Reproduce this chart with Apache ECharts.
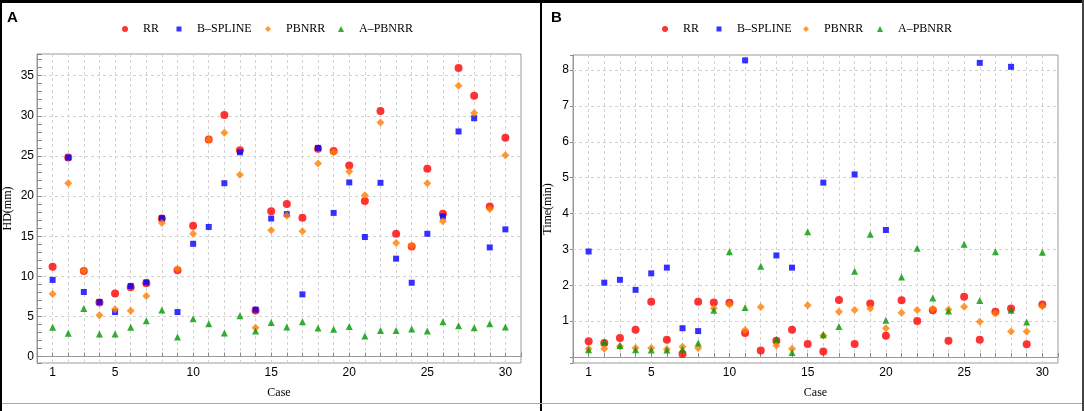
<!DOCTYPE html>
<html>
<head>
<meta charset="utf-8">
<title>HD and Time per case</title>
<script src="https://cdn.jsdelivr.net/npm/echarts@6/dist/echarts.min.js"></script>
<style>
html, body { margin: 0; padding: 0; background: #fff; }
#main { width: 1084px; height: 411px; }
</style>
</head>
<body>
<div id="main"></div>
<script>
// case numbers on the x axis
var cases = [1, 2, 3, 4, 5, 6, 7, 8, 9, 10, 11, 12, 13, 14, 15, 16, 17, 18, 19, 20, 21, 22, 23, 24, 25, 26, 27, 28, 29, 30];
var caseLabels = [1, 5, 10, 15, 20, 25, 30];

// panel A : HD (mm)
var hdRR = [11.2, 24.8, 10.65, 6.75, 7.85, 8.65, 9.15, 17.2, 10.75, 16.3, 27.05, 30.1, 25.7, 5.75, 18.1, 19.0, 17.3, 25.9, 25.6, 23.8, 19.4, 30.6, 15.3, 13.7, 23.4, 17.8, 35.95, 32.5, 18.7, 27.25];
var hdBS = [9.55, 24.8, 8.05, 6.8, 5.55, 8.8, 9.25, 17.25, 5.55, 14.05, 16.15, 21.6, 25.45, 5.85, 17.2, 17.75, 7.75, 26.0, 17.9, 21.7, 14.9, 21.65, 12.2, 9.2, 15.3, 17.45, 28.05, 29.7, 13.6, 15.85];
var hdPB = [7.8, 21.6, 10.7, 5.15, 5.9, 5.7, 7.55, 16.65, 10.9, 15.3, 27.05, 27.9, 22.65, 3.6, 15.75, 17.55, 15.6, 24.05, 25.45, 23.05, 20.1, 29.15, 14.15, 13.8, 21.6, 16.85, 33.75, 30.35, 18.4, 25.1];
var hdAP = [3.65, 2.9, 6.0, 2.8, 2.8, 3.65, 4.45, 5.8, 2.45, 4.7, 4.1, 2.95, 5.1, 3.2, 4.25, 3.7, 4.35, 3.55, 3.4, 3.75, 2.55, 3.25, 3.25, 3.45, 3.2, 4.35, 3.85, 3.6, 4.1, 3.7];
var hdTicks = [0, 5, 10, 15, 20, 25, 30, 35];

// panel B : Time (min), null = off the chart
var tRR = [0.44, 0.39, 0.53, 0.76, 1.54, 0.48, 0.08, 1.54, 1.52, 1.51, 0.67, 0.18, 0.45, 0.76, 0.36, 0.15, 1.59, 0.36, 1.49, 0.59, 1.58, 1.0, 1.3, 0.45, 1.68, 0.48, 1.26, 1.35, 0.35, 1.46];
var tBS = [2.94, 2.07, 2.15, 1.87, 2.33, 2.49, 0.8, 0.72, null, null, 8.27, null, 2.83, 2.49, null, 4.86, null, 5.09, null, 3.54, null, null, null, null, null, 8.2, null, 8.09, null, null];
var tPB = [0.23, 0.23, 0.3, 0.25, 0.25, 0.21, 0.28, 0.25, 1.36, 1.46, 0.75, 1.39, 0.32, 0.23, 1.44, 0.6, 1.26, 1.31, 1.35, 0.8, 1.23, 1.31, 1.34, 1.32, 1.4, 0.98, 1.21, 0.71, 0.71, 1.41];
var tAP = [0.2, 0.42, 0.32, 0.2, 0.19, 0.19, 0.21, 0.39, 1.3, 2.93, 1.38, 2.53, 0.49, 0.12, 3.49, 0.62, 0.85, 2.39, 3.42, 1.02, 2.23, 3.03, 1.64, 1.28, 3.14, 1.57, 2.93, 1.3, 0.97, 2.92];
var tTicks = [1, 2, 3, 4, 5, 6, 7, 8];

var names = ["RR", "B\u2013SPLINE", "PBNRR", "A\u2013PBNRR"];
var colors = ["#ff0000", "#0000ff", "#ff8000", "#009900"];
var symbols = ["circle", "rect", "diamond", "triangle"];
var sizes = [8, 6, 8, 7];
var legendSizes = [6, 5, 6, 6];

var sansFont = "'Liberation Sans Narrow', 'Liberation Sans', Arial, sans-serif";
var serifFont = "'Liberation Serif', 'Times New Roman', serif";

function pairs(vals)
{
    var out = [];
    for (var i = 0; i < cases.length; i++) {
        if (vals[i] !== null) out.push([cases[i], vals[i]]);
    }
    return out;
}

function caseFormatter(v)
{
    return caseLabels.indexOf(v) >= 0 ? String(v) : "";
}

function make_x(gridIndex)
{
    return {
        type: "value", gridIndex: gridIndex, min: 0, max: 31, interval: 1,
        name: "Case", nameLocation: "middle", nameGap: 24,
        nameTextStyle: { fontFamily: serifFont, fontSize: 12, color: "#000" },
        axisLine: { show: true, lineStyle: { color: "#999" } },
        axisTick: { show: true, inside: true, length: 4, lineStyle: { color: "#888" } },
        axisLabel: { margin: 4, fontFamily: sansFont, fontSize: 12, color: "#000", formatter: caseFormatter, showMinLabel: true, showMaxLabel: true },
        splitLine: { show: true, lineStyle: { color: "#d2d2d2", type: [3, 3] } }
    };
}

function make_series(vals, k, xi, yi)
{
    return {
        type: "scatter", name: names[k], xAxisIndex: xi, yAxisIndex: yi,
        symbol: symbols[k], symbolSize: sizes[k],
        itemStyle: { color: colors[k] },
        data: pairs(vals)
    };
}

// one legend per item so each sits where the reference puts it
function make_legends(centers)
{
    var out = [];
    for (var k = 0; k < names.length; k++) {
        var s = legendSizes[k];
        out.push({
            data: [{ name: names[k], icon: symbols[k] }],
            left: centers[k] - s / 2, top: 23, padding: 0,
            itemWidth: s, itemHeight: s, symbolKeepAspect: true,
            textStyle: { fontFamily: serifFont, fontSize: 12, color: "#000", padding: [0, 0, 0, 18 - s / 2 - 5] }
        });
    }
    return out;
}

function chart_setup()
{
    var chart = echarts.init(document.getElementById("main"), null, { renderer: "canvas" });

    var series = [
        make_series(hdRR, 0, 0, 0),
        make_series(hdBS, 1, 0, 0),
        make_series(hdPB, 2, 0, 0),
        make_series(hdAP, 3, 0, 0),
        make_series(tRR, 0, 1, 2),
        make_series(tBS, 1, 1, 2),
        make_series(tPB, 2, 1, 2),
        make_series(tAP, 3, 1, 2)
    ];
    // horizontal grid lines of panel B at its tick values
    series[4].markLine = {
        silent: true, symbol: "none", z: 1, animation: false,
        label: { show: false },
        lineStyle: { color: "#d2d2d2", type: [3, 3], width: 1 },
        data: tTicks.map(function (v) { return { yAxis: v }; })
    };

    var option = {
        animation: false,
        backgroundColor: "#fff",
        grid: [
            { left: 37, top: 54, width: 484, height: 309, show: true, borderColor: "#999", borderWidth: 1 },
            { left: 573, top: 55, width: 485, height: 308, show: true, borderColor: "#999", borderWidth: 1 }
        ],
        legend: make_legends([125, 179, 268, 341]).concat(make_legends([665, 719, 806, 880])),
        xAxis: [make_x(0), make_x(1)],
        yAxis: [
            {
                // labels + grid lines every 5
                type: "value", gridIndex: 0, min: -0.8, max: 37.7, splitNumber: 8,
                name: "HD(mm)", nameLocation: "middle", nameGap: 23, nameRotate: 90,
                nameTextStyle: { fontFamily: serifFont, fontSize: 12, color: "#000" },
                axisLine: { show: true, lineStyle: { color: "#999" } },
                axisTick: { show: false },
                axisLabel: {
                    margin: 3, fontFamily: sansFont, fontSize: 12, color: "#000",
                    formatter: function (v) { return hdTicks.indexOf(v) >= 0 ? String(v) : ""; }
                },
                splitLine: { show: true, lineStyle: { color: "#d2d2d2", type: [3, 3] } }
            },
            {
                // small inside ticks every 1 mm
                type: "value", gridIndex: 0, min: -0.8, max: 37.7, splitNumber: 38, position: "left",
                axisLine: { show: false },
                axisTick: { show: true, inside: true, length: 5, lineStyle: { color: "#888" } },
                axisLabel: { show: false },
                splitLine: { show: false }
            },
            {
                type: "value", gridIndex: 1, min: -0.17, max: 8.42, splitNumber: 8,
                name: "Time(min)", nameLocation: "middle", nameGap: 19, nameRotate: 90,
                nameTextStyle: { fontFamily: serifFont, fontSize: 12, color: "#000" },
                axisLine: { show: true, lineStyle: { color: "#999" } },
                axisTick: { show: true, inside: false, length: 3, lineStyle: { color: "#888" } },
                axisLabel: {
                    margin: 4, fontFamily: sansFont, fontSize: 12, color: "#000",
                    formatter: function (v) { return tTicks.indexOf(v) >= 0 ? String(v) : ""; }
                },
                splitLine: { show: false }
            }
        ],
        graphic: [
            { type: "rect", shape: { x: 0, y: 0, width: 1084, height: 3 }, style: { fill: "#000" }, silent: true },
            { type: "rect", shape: { x: 0, y: 0, width: 2, height: 411 }, style: { fill: "#000" }, silent: true },
            { type: "rect", shape: { x: 540, y: 0, width: 2, height: 411 }, style: { fill: "#000" }, silent: true },
            { type: "rect", shape: { x: 1082, y: 0, width: 2, height: 411 }, style: { fill: "#444" }, silent: true },
            { type: "rect", shape: { x: 2, y: 403, width: 1080, height: 1 }, style: { fill: "#aaa" }, silent: true },
            { type: "text", x: 7, y: 18, style: { text: "A", fontFamily: "'Liberation Sans', Arial, sans-serif", fontSize: 15, fontWeight: "bold", fill: "#000", verticalAlign: "middle" }, silent: true },
            { type: "text", x: 551, y: 18, style: { text: "B", fontFamily: "'Liberation Sans', Arial, sans-serif", fontSize: 15, fontWeight: "bold", fill: "#000", verticalAlign: "middle" }, silent: true }
        ],
        series: series
    };

    chart.setOption(option);
}

chart_setup();
</script>
</body>
</html>
